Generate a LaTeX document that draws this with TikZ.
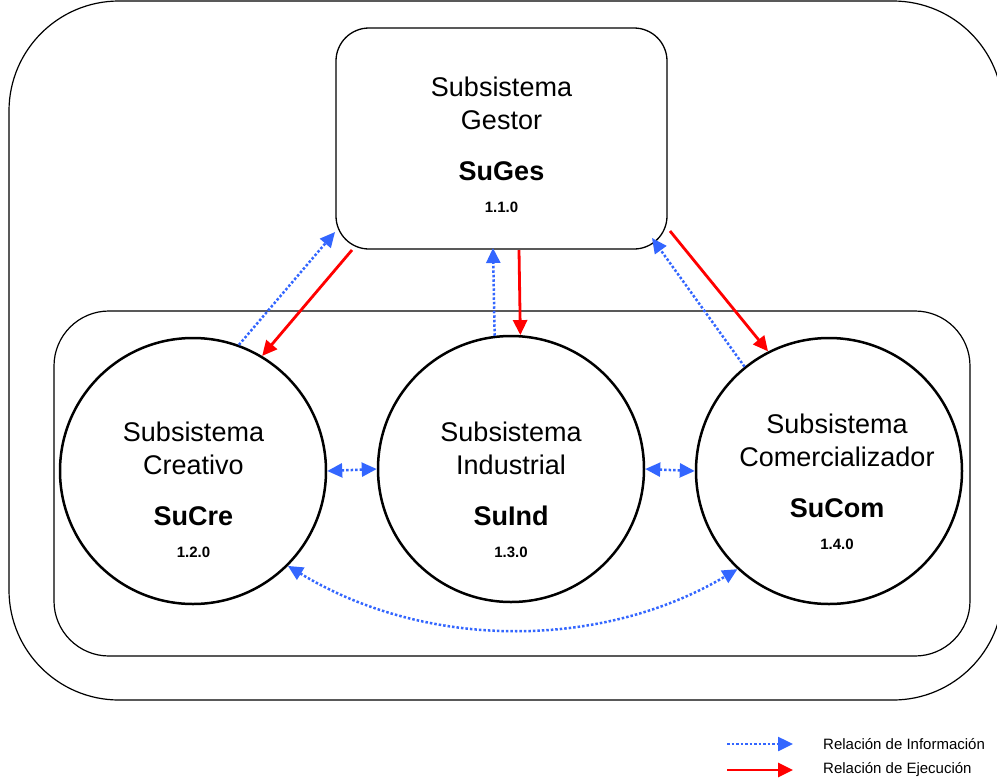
\documentclass[tikz,border=0pt]{standalone}
\usepackage{fontspec}
\setmainfont{Liberation Sans}
\usetikzlibrary{arrows.meta}
\definecolor{infoblue}{RGB}{51,102,255}
\definecolor{execred}{RGB}{255,0,0}
% four-line caption of a subsystem: name, name, acronym, code
\newcommand{\subsys}[4]{%
  #1\\
  #2\\[18pt]
  {\bfseries #3}\\[-1pt]
  {\fontsize{15}{18}\selectfont\bfseries #4}}
\begin{document}
\begin{tikzpicture}[x=1pt,y=-1pt,
  frame/.style={draw=black,line width=1.2pt},
  gestorbox/.style={draw,line width=1.3pt,rounded corners=33pt,
    minimum width=331pt,minimum height=221pt,inner sep=0pt},
  subcircle/.style={draw,circle,line width=2.5pt,minimum size=266pt,inner sep=0pt},
  subtext/.style={align=center,font=\fontsize{27}{33}\selectfont,inner sep=0pt},
  legendtext/.style={anchor=west,font=\fontsize{15}{18}\selectfont,inner sep=0pt},
  infoline/.style={draw=infoblue,line width=2.5pt,dash pattern=on 2.5pt off 2pt},
  infoarrow/.style={infoline,-{Triangle[length=15pt,width=14pt]}},
  infoboth/.style={infoline,{Triangle[length=15pt,width=14pt]}-{Triangle[length=15pt,width=14pt]}},
  execarrow/.style={draw=execred,line width=2.8pt,-{Triangle[length=15pt,width=14pt]}}
]
\useasboundingbox (0,0) rectangle (997,782);
\clip (0,0) rectangle (997,782);

% enclosing frames
\draw[frame,rounded corners=110pt] (9,1) rectangle (1003,700);
\draw[frame,rounded corners=55pt] (54,311) rectangle (970,656);

% management subsystem
\node[gestorbox] (sg) at (501.5,138.5) {};
\node[subtext] (sgt) at (501.5,145) {\subsys{Subsistema}{Gestor}{SuGes}{1.1.0}};

% operating subsystems
\node[subcircle] (sc) at (193,471) {};
\node[subcircle] (si) at (511,469) {};
\node[subcircle] (sm) at (829,471) {};
\node[subtext] (sct) at (193.5,490) {\subsys{Subsistema}{Creativo}{SuCre}{1.2.0}};
\node[subtext] (sit) at (511,490) {\subsys{Subsistema}{Industrial}{SuInd}{1.3.0}};
\node[subtext] (smt) at (837,482) {\subsys{Subsistema}{Comercializador}{SuCom}{1.4.0}};

% information flows towards the manager
\draw[infoarrow] (sc.70) -- ([shift={(-166.5,93.5)}]sg.center);
\draw[infoarrow] (si.97.7) -- ([shift={(-8.5,109.5)}]sg.center);
\draw[infoarrow] (sm.129.5) -- ([shift={(150.5,99.5)}]sg.center);

% execution orders from the manager
\draw[execarrow] ([shift={(-149.5,111.5)}]sg.center) -- (sc.59.6);
\draw[execarrow] ([shift={(17.5,111.5)}]sg.center) -- (si.86.6);
\draw[execarrow] ([shift={(168.5,92.5)}]sg.center) -- (sm.117.9);

% information exchange between subsystems
\draw[infoboth] (sc.east) -- (si.west);
\draw[infoboth] (si.east) -- (sm.west);
\draw[infoboth] (sc.-45) .. controls (426,650) and (601,650) .. (sm.-133);

% legend
\coordinate (lia) at (727,744);
\coordinate (lib) at (793,744);
\coordinate (lea) at (727,770);
\coordinate (leb) at (793,770);
\draw[infoarrow] (lia) -- (lib);
\draw[execarrow] (lea) -- (leb);
\node[legendtext] (lit) at (823,744) {Relación de Información};
\node[legendtext] (let) at (823,770) {Relación de Ejecución};
\end{tikzpicture}
\end{document}
